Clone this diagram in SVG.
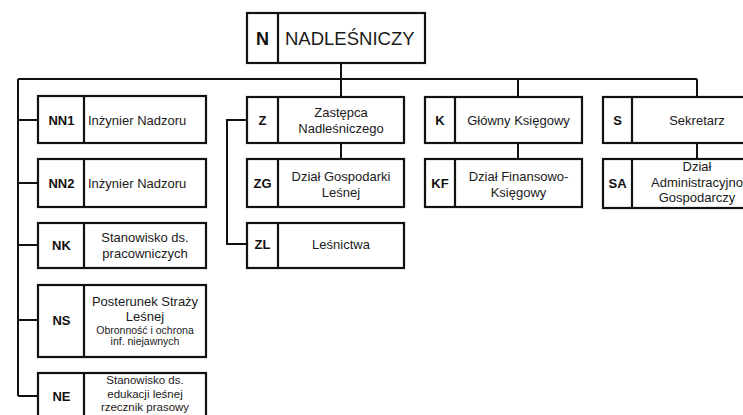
<svg xmlns="http://www.w3.org/2000/svg" width="743" height="415" viewBox="0 0 743 415">
<style>
.box{fill:#fff;stroke:#111;stroke-width:2.2}
.div{stroke:#111;stroke-width:2.2}
.con{fill:none;stroke:#111;stroke-width:2}
.code{font-family:"Liberation Sans",Arial,sans-serif;font-weight:bold;font-size:13px;fill:#111;text-anchor:middle}
.lbl{font-family:"Liberation Sans",Arial,sans-serif;font-size:13px;fill:#1a1a1a;text-anchor:middle}
.sm{font-family:"Liberation Sans",Arial,sans-serif;font-size:10.5px;fill:#1a1a1a;text-anchor:middle}
</style>
<rect width="743" height="415" fill="#fff"/>
<g id="connectors">
<path class="con" d="M341 63V97M18 79H697M518 79V97M697 79V97"/>
<path class="con" d="M18 79V396M18 120H38M18 183H38M18 245H38M18 320H38M18 396H38"/>
<path class="con" d="M341 143V159M518 143V159M697 143V159"/>
<path class="con" d="M247 120H227V244H247"/>
</g>
<g id="N">
<rect class="box" x="247" y="13" width="178" height="50"/>
<line class="div" x1="278" y1="13" x2="278" y2="63"/>
<text class="code" x="262.5" y="45" style="font-size:18px">N</text>
<text x="285" y="45" style="font-family:'Liberation Sans',Arial,sans-serif;font-size:18.5px;fill:#1a1a1a">NADLEŚNICZY</text>
</g>
<g id="NN1">
<rect class="box" x="38" y="96" width="168" height="47"/>
<line class="div" x1="84" y1="96" x2="84" y2="143"/>
<text class="code" x="61.5" y="125">NN1</text>
<text class="lbl" x="88" y="124.5" style="text-anchor:start">Inżynier Nadzoru</text>
</g>
<g id="NN2">
<rect class="box" x="38" y="159" width="168" height="48"/>
<line class="div" x1="84" y1="159" x2="84" y2="207"/>
<text class="code" x="61.5" y="188">NN2</text>
<text class="lbl" x="88" y="187.5" style="text-anchor:start">Inżynier Nadzoru</text>
</g>
<g id="NK">
<rect class="box" x="38" y="223" width="168" height="45"/>
<line class="div" x1="84" y1="223" x2="84" y2="268"/>
<text class="code" x="61.5" y="250">NK</text>
<text class="lbl" x="145" y="241.5">Stanowisko ds.</text>
<text class="lbl" x="145" y="257.5">pracowniczych</text>
</g>
<g id="NS">
<rect class="box" x="38" y="285" width="168" height="72"/>
<line class="div" x1="84" y1="285" x2="84" y2="357"/>
<text class="code" x="61.5" y="325">NS</text>
<text class="lbl" x="145" y="305.5">Posterunek Straży</text>
<text class="lbl" x="145" y="320.5">Leśnej</text>
<text class="sm" x="145" y="334">Obronność i ochrona</text>
<text class="sm" x="145" y="345">inf. niejawnych</text>
</g>
<g id="NE">
<rect class="box" x="38" y="373" width="168" height="50"/>
<line class="div" x1="84" y1="373" x2="84" y2="423"/>
<text class="code" x="61.5" y="401">NE</text>
<text class="lbl" x="145" y="384.3" style="font-size:11.5px">Stanowisko ds.</text>
<text class="lbl" x="145" y="397.6" style="font-size:11.5px">edukacji leśnej</text>
<text class="lbl" x="145" y="410.9" style="font-size:11.5px">rzecznik prasowy</text>
</g>
<g id="Z">
<rect class="box" x="247" y="97" width="157" height="46"/>
<line class="div" x1="278" y1="97" x2="278" y2="143"/>
<text class="code" x="262.5" y="125">Z</text>
<text class="lbl" x="341" y="116.5">Zastępca</text>
<text class="lbl" x="341" y="132.5">Nadleśniczego</text>
</g>
<g id="ZG">
<rect class="box" x="247" y="159" width="157" height="48"/>
<line class="div" x1="278" y1="159" x2="278" y2="207"/>
<text class="code" x="262.5" y="188">ZG</text>
<text class="lbl" x="341" y="180.5">Dział Gospodarki</text>
<text class="lbl" x="341" y="196.5">Leśnej</text>
</g>
<g id="ZL">
<rect class="box" x="247" y="223" width="157" height="45"/>
<line class="div" x1="278" y1="223" x2="278" y2="268"/>
<text class="code" x="262.5" y="249">ZL</text>
<text class="lbl" x="341" y="248.5">Leśnictwa</text>
</g>
<g id="K">
<rect class="box" x="425" y="97" width="157" height="46"/>
<line class="div" x1="455" y1="97" x2="455" y2="143"/>
<text class="code" x="440" y="125">K</text>
<text class="lbl" x="518.5" y="124.5">Główny Księgowy</text>
</g>
<g id="KF">
<rect class="box" x="425" y="159" width="157" height="48"/>
<line class="div" x1="455" y1="159" x2="455" y2="207"/>
<text class="code" x="440" y="188">KF</text>
<text class="lbl" x="518.5" y="180.5">Dział Finansowo-</text>
<text class="lbl" x="518.5" y="196.5">Księgowy</text>
</g>
<g id="S">
<rect class="box" x="603" y="97" width="160" height="46"/>
<line class="div" x1="632" y1="97" x2="632" y2="143"/>
<text class="code" x="617.5" y="125">S</text>
<text class="lbl" x="697" y="124.5">Sekretarz</text>
</g>
<g id="SA">
<rect class="box" x="603" y="159" width="160" height="49"/>
<line class="div" x1="632" y1="159" x2="632" y2="208"/>
<text class="code" x="617.5" y="188">SA</text>
<text class="lbl" x="697" y="171">Dział</text>
<text class="lbl" x="697" y="186.5">Administracyjno</text>
<text class="lbl" x="697" y="201.5">Gospodarczy</text>
</g>
</svg>
